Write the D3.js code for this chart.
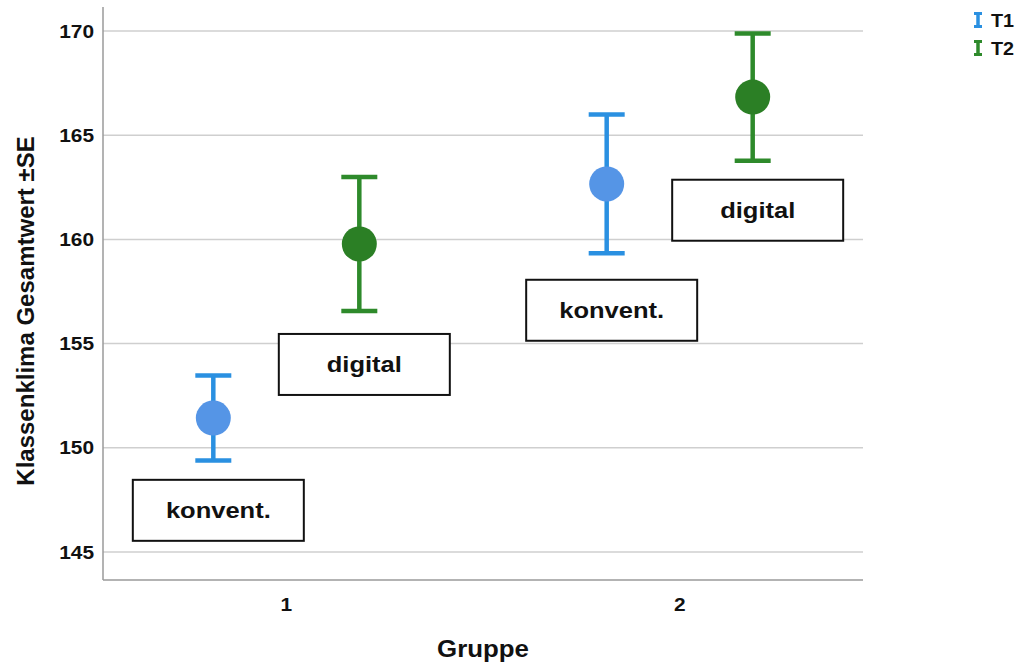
<!DOCTYPE html>
<html>
<head>
<meta charset="utf-8">
<script src="https://cdn.jsdelivr.net/npm/d3@7"></script>
<style>
  html, body { margin: 0; padding: 0; background: #fff; }
  svg { display: block; font-family: "Liberation Sans", Arial, sans-serif; }
</style>
</head>
<body>
<svg id="chart" width="1021" height="666"></svg>
<script>
// Groups on the x axis and measurement times
const groups = ["1", "2"];
const series = ["T1", "T2"];

// Mean and standard error per time point, one entry per group
const meanT1 = [151.43, 162.66];
const seT1   = [2.04, 3.33];
const meanT2 = [159.78, 166.83];
const seT2   = [3.22, 3.05];

// Condition labels placed under each mean (y in scale units)
const noteText   = ["konvent.", "digital", "konvent.", "digital"];
const noteGroup  = ["1", "1", "2", "2"];
const noteSeries = ["T1", "T2", "T1", "T2"];
const noteY      = [147.0, 154.0, 156.6, 161.4];

// Axis ticks
const yTicks = [145, 150, 155, 160, 165, 170];

const colors = {
  T1: { bar: "#2a90e1", dot: "#5595e6" },
  T2: { bar: "#2e8a2b", dot: "#2b7f25" }
};

const svg = d3.select("#chart");
const plotL = 103, plotR = 863, plotT = 7, plotB = 580;

const x = d3.scalePoint().domain(groups).range([plotL, plotR]).padding(0.466);
const dx = d3.scalePoint().domain(series).range([-73, 73]);
const y = d3.scaleLinear().domain([143.657, 171.152]).range([plotB, plotT]);

// Grid lines
svg.append("g").selectAll("line").data(yTicks).join("line")
  .attr("x1", plotL).attr("x2", plotR)
  .attr("y1", d => y(d)).attr("y2", d => y(d))
  .attr("stroke", "#cfcfcf").attr("stroke-width", 1.5);

// Axis lines
svg.append("line").attr("x1", plotL).attr("x2", plotL).attr("y1", plotT).attr("y2", plotB)
  .attr("stroke", "#9a9a9a").attr("stroke-width", 1.5);
svg.append("line").attr("x1", plotL).attr("x2", plotR).attr("y1", plotB).attr("y2", plotB)
  .attr("stroke", "#9a9a9a").attr("stroke-width", 1.5);

// Tick labels (slightly widened glyphs)
svg.append("g").selectAll("text").data(yTicks).join("text")
  .attr("transform", d => `translate(94,${y(d) + 6.5}) scale(1.16,1)`)
  .attr("text-anchor", "end")
  .attr("font-size", 18).attr("font-weight", "bold").attr("fill", "#111")
  .text(d => d);

svg.append("g").selectAll("text").data(groups).join("text")
  .attr("transform", d => `translate(${x(d)},611) scale(1.16,1)`)
  .attr("text-anchor", "middle")
  .attr("font-size", 18).attr("font-weight", "bold").attr("fill", "#111")
  .text(d => d);

// Axis titles
svg.append("text")
  .attr("transform", `translate(${(plotL + plotR) / 2},657) scale(1.1,1)`)
  .attr("text-anchor", "middle")
  .attr("font-size", 23.5).attr("font-weight", "bold").attr("fill", "#111")
  .text("Gruppe");

svg.append("text")
  .attr("transform", "translate(34,311) rotate(-90)")
  .attr("text-anchor", "middle")
  .attr("font-size", 24).attr("font-weight", "bold").attr("fill", "#111")
  .text("Klassenklima Gesamtwert ±SE");

// Annotation boxes
const notes = noteText.map((t, i) => ({ t, g: noteGroup[i], s: noteSeries[i], v: noteY[i] }));
const boxW = 171, boxH = 61;
const noteG = svg.append("g").selectAll("g").data(notes).join("g")
  .attr("transform", d => `translate(${x(d.g) + dx(d.s) + 5},${y(d.v)})`);
noteG.append("rect")
  .attr("x", -boxW / 2).attr("y", -boxH / 2).attr("width", boxW).attr("height", boxH)
  .attr("fill", "#fff").attr("stroke", "#111").attr("stroke-width", 2);
noteG.append("text")
  .attr("transform", "translate(0,8) scale(1.16,1)")
  .attr("text-anchor", "middle")
  .attr("font-size", 22).attr("font-weight", "bold").attr("fill", "#111")
  .text(d => d.t);

// Error bars with means
const points = [];
groups.forEach((g, i) => {
  points.push({ g, s: "T1", m: meanT1[i], se: seT1[i] });
  points.push({ g, s: "T2", m: meanT2[i], se: seT2[i] });
});
const capW = 36;
const pg = svg.append("g").selectAll("g").data(points).join("g")
  .attr("transform", d => `translate(${x(d.g) + dx(d.s)},0)`);
pg.append("line")
  .attr("x1", 0).attr("x2", 0)
  .attr("y1", d => y(d.m + d.se)).attr("y2", d => y(d.m - d.se))
  .attr("stroke", d => colors[d.s].bar).attr("stroke-width", 4.5);
pg.append("line")
  .attr("x1", -capW / 2).attr("x2", capW / 2)
  .attr("y1", d => y(d.m + d.se)).attr("y2", d => y(d.m + d.se))
  .attr("stroke", d => colors[d.s].bar).attr("stroke-width", 4.5);
pg.append("line")
  .attr("x1", -capW / 2).attr("x2", capW / 2)
  .attr("y1", d => y(d.m - d.se)).attr("y2", d => y(d.m - d.se))
  .attr("stroke", d => colors[d.s].bar).attr("stroke-width", 4.5);
pg.append("circle")
  .attr("cy", d => y(d.m)).attr("r", 17.5)
  .attr("fill", d => colors[d.s].dot);

// Legend
const leg = svg.append("g").selectAll("g").data(series).join("g")
  .attr("transform", (d, i) => `translate(978,${20 + i * 28})`);
leg.append("line").attr("x1", 0).attr("x2", 0).attr("y1", -7).attr("y2", 7)
  .attr("stroke", d => colors[d].bar).attr("stroke-width", 3.5);
leg.append("line").attr("x1", -4).attr("x2", 4).attr("y1", -6.5).attr("y2", -6.5)
  .attr("stroke", d => colors[d].bar).attr("stroke-width", 3);
leg.append("line").attr("x1", -4).attr("x2", 4).attr("y1", 6.5).attr("y2", 6.5)
  .attr("stroke", d => colors[d].bar).attr("stroke-width", 3);
leg.append("text")
  .attr("transform", "translate(13,6.5) scale(1.1,1)")
  .attr("font-size", 18).attr("font-weight", "bold").attr("fill", "#111")
  .text(d => d);
</script>
</body>
</html>
